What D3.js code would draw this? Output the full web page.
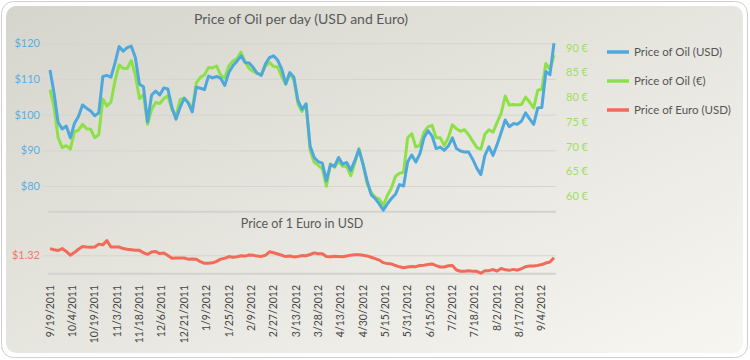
<!DOCTYPE html>
<html>
<head>
<meta charset="utf-8">
<script src="https://cdn.jsdelivr.net/npm/d3@7"></script>
<style>
    body { margin: 0; background: #fff; }
    svg { font-family: Lato, "Open Sans", sans-serif; }
</style>
</head>
<body>
<div id="chart"></div>
<script>

// x axis labels, one every 11 trading days; series are sampled every 2 trading days
const tickLabels = ["9/19/2011","10/4/2011","10/19/2011","11/3/2011","11/18/2011","12/6/2011","12/21/2011",
    "1/9/2012","1/25/2012","2/9/2012","2/27/2012","3/13/2012","3/28/2012","4/13/2012","4/30/2012",
    "5/15/2012","5/31/2012","6/15/2012","7/2/2012","7/18/2012","8/2/2012","8/17/2012","9/4/2012"];
const daysPerLabel = 11;
const daysPerSample = 2;

const oilUsd = [112.5, 106, 97.8, 96, 96.8, 93.5, 97.5, 99.5, 102.7, 101.8,
    101, 99.7, 100.5, 110.7, 111, 110.5, 114.5, 119.1, 117.8, 118.8,
    119.2, 116, 108.5, 107.8, 98, 105.5, 106.6, 105.5, 107.5, 107.2,
    102, 98.7, 102, 104.6, 103.3, 100.8, 107.7, 107.4, 107, 110.8,
    110.3, 110.7, 110.2, 108.2, 111.8, 113.7, 115, 116.5, 114.6, 114.5,
    113.2, 111.6, 111, 114.2, 116, 116.5, 115.3, 112.8, 108.6, 111.8,
    110.5, 104, 101.5, 103, 91.2, 88, 86.8, 86.4, 81.5, 86,
    85.5, 88, 86.1, 86.6, 84.4, 87.1, 90.2, 86.2, 81.6, 77.6,
    76.5, 75, 73.2, 75, 76.5, 77.7, 80.4, 80, 86.8, 88.7,
    86.7, 89, 93.5, 95.5, 94, 90.5, 90.9, 90, 91.2, 93.5,
    90.5, 89.8, 89.5, 89.5, 87.5, 85, 83.2, 88.6, 91, 88.6,
    91.6, 95, 98.5, 96.6, 97.5, 97.3, 98.2, 100.5, 98.8, 97.3,
    101.9, 102, 112.1, 111.2, 120];

const oilEur = [81.5, 78, 71.8, 69.8, 70.2, 69.5, 73, 73.3, 74.5, 73.6,
    73.5, 71.8, 72.4, 79.6, 78.2, 79, 83.3, 86.5, 85.8, 85.8,
    87.4, 84.5, 79.7, 80.5, 74.5, 77.5, 78.9, 78.7, 79.7, 80.3,
    77.5, 76.2, 79.5, 79.8, 78.9, 77.6, 82.9, 84, 84.5, 86,
    85.9, 86.3, 84.4, 83.9, 86.3, 87.3, 87.8, 89.1, 87.1, 85.8,
    85.2, 84.8, 84.6, 86.3, 87, 86.2, 86.1, 84.2, 82.6, 84.8,
    83.5, 78.6, 77.1, 78.6, 69.2, 66.8, 66.2, 65.5, 62, 66.5,
    65.8, 67, 66, 66, 64.1, 66.7, 69.6, 66.5, 62.5, 60.8,
    59.7, 59.4, 58.1, 60.1, 61.6, 64, 64.6, 64.8, 71.8, 72.6,
    69.9, 70.3, 72.9, 74, 74.3, 71.8, 71.8, 70.2, 71.8, 74.4,
    73.6, 73.1, 73.4, 72.4, 71.1, 69.8, 69.5, 72.5, 73.4, 72.9,
    74.9, 76.7, 80.2, 78.4, 78.5, 78.4, 78.5, 80, 79, 77.8,
    81.4, 81.6, 86.8, 85.6, 88.5];

const euroUsd = [1.362, 1.355, 1.350, 1.362, 1.344, 1.321, 1.337, 1.358, 1.375, 1.372,
    1.371, 1.372, 1.390, 1.385, 1.412, 1.372, 1.372, 1.372, 1.362, 1.358,
    1.355, 1.351, 1.351, 1.336, 1.326, 1.341, 1.343, 1.331, 1.335, 1.319,
    1.301, 1.303, 1.303, 1.303, 1.296, 1.297, 1.295, 1.280, 1.270, 1.271,
    1.273, 1.282, 1.296, 1.301, 1.312, 1.308, 1.311, 1.317, 1.315, 1.322,
    1.320, 1.315, 1.313, 1.320, 1.342, 1.336, 1.328, 1.320, 1.312, 1.316,
    1.310, 1.312, 1.318, 1.317, 1.325, 1.335, 1.330, 1.330, 1.312, 1.311,
    1.314, 1.313, 1.311, 1.316, 1.321, 1.324, 1.324, 1.320, 1.316, 1.308,
    1.299, 1.290, 1.274, 1.268, 1.266, 1.256, 1.248, 1.242, 1.247, 1.250,
    1.249, 1.256, 1.258, 1.262, 1.266, 1.256, 1.247, 1.247, 1.255, 1.256,
    1.228, 1.220, 1.220, 1.223, 1.221, 1.220, 1.208, 1.224, 1.224, 1.231,
    1.222, 1.238, 1.229, 1.226, 1.232, 1.227, 1.236, 1.249, 1.253, 1.253,
    1.257, 1.262, 1.272, 1.278, 1.305];

const usdTicks = [80, 90, 100, 110, 120];
const eurTicks = [60, 65, 70, 75, 80, 85, 90];
const euroTicks = [1.32];

const seriesNames = ["Price of Oil (USD)", "Price of Oil (€)", "Price of Euro (USD)"];
const seriesColors = ["#4fa8dc", "#8ee048", "#f26a58"];


class OilChart {

    constructor(parentElement) {
        this.parentElement = parentElement;
        this.initVis();
    }

    initVis() {
        let vis = this;

        vis.width = 750;
        vis.height = 360;

        vis.svg = d3.select("#" + vis.parentElement).append("svg")
            .attr("width", vis.width)
            .attr("height", vis.height);

        // card background
        let grad = vis.svg.append("defs").append("linearGradient")
            .attr("id", "bg")
            .attr("x1", 0).attr("y1", 0).attr("x2", 1).attr("y2", 1);
        grad.append("stop").attr("offset", "0%").attr("stop-color", "#d5d5cd");
        grad.append("stop").attr("offset", "100%").attr("stop-color", "#f7f6f1");

        vis.svg.append("rect")
            .attr("x", 1.5).attr("y", 1.5)
            .attr("width", 746).attr("height", 356)
            .attr("rx", 12)
            .attr("fill", "#fff")
            .attr("stroke", "#cfcfcf");
        vis.svg.append("rect")
            .attr("x", 6).attr("y", 6)
            .attr("width", 737).attr("height", 347)
            .attr("rx", 10)
            .attr("fill", "url(#bg)");

        // scales
        vis.x = d3.scaleLinear().domain([0, oilUsd.length - 1]).range([50, 554]);
        vis.yUsd = d3.scaleLinear().domain([72.8, 120]).range([211.7, 43.3]);
        vis.yEur = d3.scaleLinear().domain([60, 90]).range([196, 47.7]);
        vis.yEuro = d3.scaleLinear().domain([1.205, 1.32]).range([273.7, 255.3]);

        // titles
        vis.svg.append("text")
            .attr("x", 301).attr("y", 24)
            .attr("text-anchor", "middle")
            .attr("font-size", 14)
            .attr("fill", "#595959")
            .text("Price of Oil per day (USD and Euro)");

        vis.svg.append("text")
            .attr("x", 302).attr("y", 228)
            .attr("text-anchor", "middle")
            .attr("font-size", 12.5)
            .attr("fill", "#595959")
            .text("Price of 1 Euro in USD");

        // left axis + gridlines (oil in USD)
        let gUsd = vis.svg.append("g")
            .attr("transform", "translate(43,0)")
            .call(d3.axisLeft(vis.yUsd).tickValues(usdTicks)
                .tickSize(-513).tickPadding(3).tickFormat(d => "$" + d));
        gUsd.select(".domain").remove();
        gUsd.selectAll("line").attr("stroke", "#d5d5d1");
        gUsd.selectAll("text").attr("fill", "#5aaee0").attr("font-size", 11)
            .attr("font-family", "Lato, sans-serif");

        // right axis (oil in euro)
        let gEur = vis.svg.append("g")
            .attr("transform", "translate(556,0)")
            .call(d3.axisRight(vis.yEur).tickValues(eurTicks)
                .tickSize(0).tickPadding(10).tickFormat(d => d + " €"));
        gEur.select(".domain").remove();
        gEur.selectAll("text").attr("fill", "#9ee05e").attr("font-size", 11)
            .attr("font-family", "Lato, sans-serif");

        // bottom chart axis (euro rate)
        let gEuro = vis.svg.append("g")
            .attr("transform", "translate(43,0)")
            .call(d3.axisLeft(vis.yEuro).tickValues(euroTicks)
                .tickSize(-513).tickPadding(3).tickFormat(d => "$" + d.toFixed(2)));
        gEuro.select(".domain").remove();
        gEuro.selectAll("line").attr("stroke", "#d5d5d1");
        gEuro.selectAll("text").attr("fill", "#f07868").attr("font-size", 11)
            .attr("font-family", "Lato, sans-serif");

        // baselines
        [211.7, 273.7].forEach(y => {
            vis.svg.append("line")
                .attr("x1", 48).attr("x2", 556)
                .attr("y1", y).attr("y2", y)
                .attr("stroke", "#d2d2ce")
                .attr("stroke-width", 2);
        });

        // lines
        let lineUsd = d3.line().x((d, i) => vis.x(i)).y(d => vis.yUsd(d));
        let lineEur = d3.line().x((d, i) => vis.x(i)).y(d => vis.yEur(d));
        let lineEuro = d3.line().x((d, i) => vis.x(i)).y(d => vis.yEuro(d));

        vis.svg.append("path").datum(oilEur)
            .attr("d", lineEur)
            .attr("fill", "none").attr("stroke", seriesColors[1])
            .attr("stroke-width", 3).attr("stroke-linejoin", "round");

        vis.svg.append("path").datum(oilUsd)
            .attr("d", lineUsd)
            .attr("fill", "none").attr("stroke", seriesColors[0])
            .attr("stroke-width", 3).attr("stroke-linejoin", "round");

        vis.svg.append("path").datum(euroUsd)
            .attr("d", lineEuro)
            .attr("fill", "none").attr("stroke", seriesColors[2])
            .attr("stroke-width", 3).attr("stroke-linejoin", "round");

        // x labels, rotated
        vis.svg.append("g")
            .selectAll("text")
            .data(tickLabels)
            .join("text")
            .attr("transform", (d, i) => `translate(${vis.x(i * daysPerLabel / daysPerSample)},285) rotate(-90)`)
            .attr("text-anchor", "end")
            .attr("dy", "0.35em")
            .attr("font-size", 10.5)
            .attr("fill", "#444")
            .text(d => d);

        // legend
        let legend = vis.svg.append("g")
            .selectAll("g")
            .data(seriesNames)
            .join("g")
            .attr("transform", (d, i) => `translate(607,${52 + i * 29})`);
        legend.append("line")
            .attr("x1", 0).attr("x2", 22)
            .attr("stroke", (d, i) => seriesColors[i])
            .attr("stroke-width", 3.5);
        legend.append("text")
            .attr("x", 27).attr("dy", "0.35em")
            .attr("font-size", 11.5)
            .attr("fill", "#555")
            .text(d => d);
    }
}

new OilChart("chart");

</script>
</body>
</html>
